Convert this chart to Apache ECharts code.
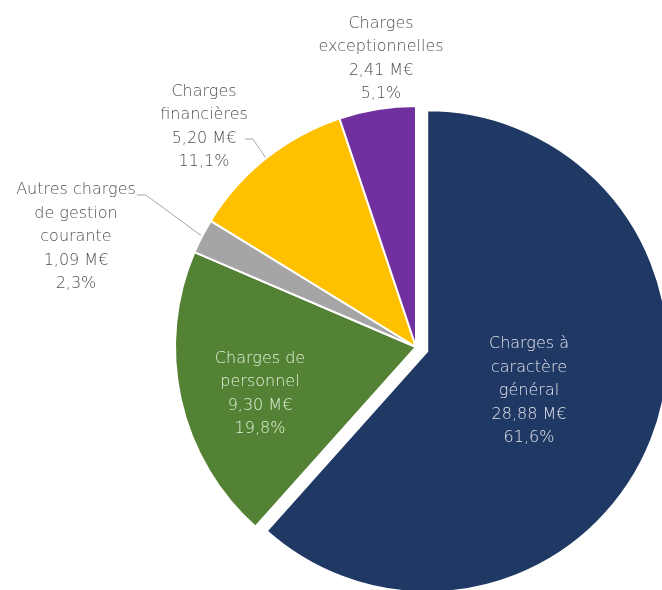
<!DOCTYPE html>
<html>
<head>
<meta charset="utf-8">
<script src="https://cdn.jsdelivr.net/npm/echarts@6/dist/echarts.min.js"></script>
<style>html,body{margin:0;padding:0;background:#fff}#c{width:662px;height:590px}</style>
</head>
<body>
<div id="c"></div>
<script>
const categories = ["Charges à\ncaractère\ngénéral", "Charges de\npersonnel", "Autres charges\nde gestion\ncourante", "Charges\nfinancières", "Charges\nexceptionnelles"];
const values = [28.88, 9.30, 1.09, 5.20, 2.41];
const colors = ["#1f3864", "#548235", "#a5a5a5", "#ffc000", "#7030a0"];
const labelColors = ["#e4e4ea", "#e2efda", "#505050", "#505050", "#505050"];
const labelPos = [[529, 391], [260, 394], [76, 237], [204, 127], [381, 59]];
// leader anchor: [dx from label right edge, dy from label centre, horizontal run]
const leader = [null, null, [1, -42, 9], [-3, 12, 8], null];
const explodedIndex = 0;
const explodeDist = 12;
const center = [416, 347];

const fmt = (v, d) => v.toFixed(d).replace('.', ',');
const total = values.reduce((a, b) => a + b, 0);

// bisector of the exploded slice (clockwise from 12 o'clock)
let before = 0;
for (let i = 0; i < explodedIndex; i++) before += values[i];
const mid = (before + values[explodedIndex] / 2) / total * 2 * Math.PI;
const center2 = [center[0] + explodeDist * Math.sin(mid), center[1] - explodeDist * Math.cos(mid)];

function makeData(showSet) {
  return categories.map((n, i) => {
    const vis = showSet(i);
    return {
      name: n,
      value: values[i],
      itemStyle: vis ? { color: colors[i], borderColor: '#fff', borderWidth: 2 } : { color: 'rgba(0,0,0,0)', borderWidth: 0 },
      label: { show: vis, color: labelColors[i], position: (i < 2) ? 'inside' : 'outside' },
      labelLine: { show: vis && !!leader[i], lineStyle: { color: '#a6a6a6', width: 1 } }
    };
  });
}

const baseSeries = {
  type: 'pie',
  radius: 241,
  startAngle: 90,
  clockwise: true,
  avoidLabelOverlap: false,
  silent: true,
  emphasis: { disabled: true },
  label: {
    fontFamily: 'DejaVu Sans',
    fontWeight: 300,
    fontSize: 16,
    lineHeight: 23.5,
    align: 'center',
    formatter: p => p.name + '\n' + fmt(p.value, 2) + ' M€\n' + fmt(p.value / total * 100, 1) + '%'
  },
  labelLine: { length: 10, length2: 10 },
  labelLayout: p => {
    const i = p.dataIndex;
    const pos = labelPos[i];
    const out = { x: pos[0], y: pos[1], align: 'center', verticalAlign: 'middle' };
    const L = leader[i];
    if (L && p.labelLinePoints) {
      const right = pos[0] + p.labelRect.width / 2 + L[0];
      const ey = pos[1] + L[1];
      out.labelLinePoints = [p.labelLinePoints[0], [right + L[2], ey], [right, ey]];
    }
    return out;
  }
};

const chart = echarts.init(document.getElementById('c'), null, { renderer: 'canvas' });
chart.setOption({
  animation: false,
  series: [
    Object.assign({}, baseSeries, { center: center, data: makeData(i => i !== explodedIndex) }),
    Object.assign({}, baseSeries, { center: center2, data: makeData(i => i === explodedIndex) })
  ]
});
</script>
</body>
</html>
